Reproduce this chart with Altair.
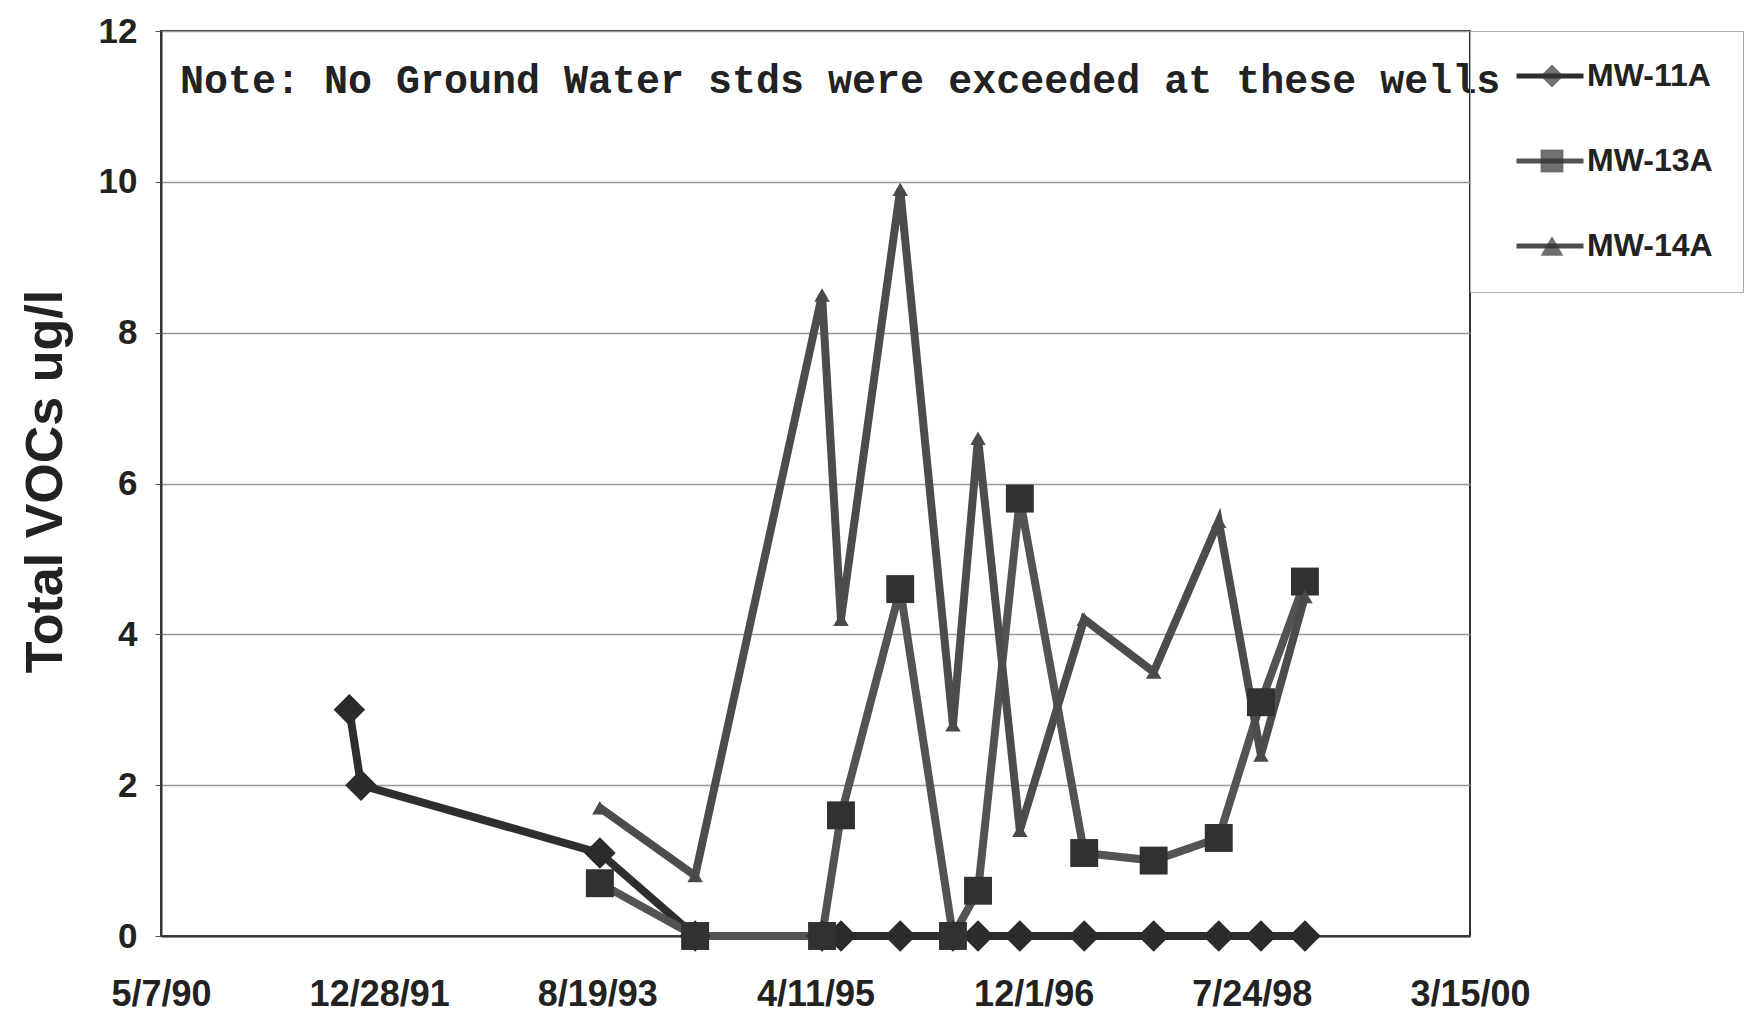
import altair as alt
import pandas as pd

# Sampling rounds and total VOC results (ug/l) for the three monitoring wells
wells = ["MW-11A", "MW-13A", "MW-14A"]

mw11_dates = [
    "1991-10-07", "1991-11-08", "1993-08-26", "1994-05-15", "1995-04-29",
    "1995-06-20", "1995-11-30", "1996-04-23", "1996-07-01", "1996-10-24",
    "1997-04-19", "1997-10-27", "1998-04-24", "1998-08-18", "1998-12-17",
]
mw11_vocs = [3.0, 2.0, 1.1, 0, 0, 0, 0, 0, 0, 0, 0, 0, 0, 0, 0]

later_dates = [
    "1993-08-26", "1994-05-15", "1995-04-29", "1995-06-20", "1995-11-30",
    "1996-04-23", "1996-07-01", "1996-10-24", "1997-04-19", "1997-10-27",
    "1998-04-24", "1998-08-18", "1998-12-17",
]
mw13_vocs = [0.7, 0, 0, 1.6, 4.6, 0, 0.6, 5.8, 1.1, 1.0, 1.3, 3.1, 4.7]
mw14_vocs = [1.7, 0.8, 8.5, 4.2, 9.9, 2.8, 6.6, 1.4, 4.2, 3.5, 5.5, 2.4, 4.5]

tick_dates = ["1990-05-07", "1991-12-28", "1993-08-19", "1995-04-11",
              "1996-12-01", "1998-07-24", "2000-03-15"]
y_ticks = [0, 2, 4, 6, 8, 10, 12]
note_text = "Note: No Ground Water stds were exceeded at these wells"

# Long table for the layered chart
rows = []
for d, v in zip(mw11_dates, mw11_vocs):
    rows.append({"date": d, "vocs": v, "well": "MW-11A"})
for d, v in zip(later_dates, mw13_vocs):
    rows.append({"date": d, "vocs": v, "well": "MW-13A"})
for d, v in zip(later_dates, mw14_vocs):
    rows.append({"date": d, "vocs": v, "well": "MW-14A"})
df = pd.DataFrame(rows)

tick_ms = [int(t) for t in (pd.to_datetime(tick_dates).astype("int64") // 10**6)]

line_colors = ["#2e2e2e", "#535353", "#4c4c4c"]
marker_style = {
    "MW-11A": {"shape": "diamond", "size": 1000, "color": "#2b2b2b"},
    "MW-13A": {"shape": "square", "size": 780, "color": "#313131"},
    "MW-14A": {"shape": "triangle-up", "size": 240, "color": "#4a4a4a"},
}
legend_shapes = [marker_style[w]["shape"] for w in wells]

x_enc = alt.X(
    "date:T",
    scale=alt.Scale(type="utc", domain=[tick_ms[0], tick_ms[-1]]),
    axis=alt.Axis(
        values=tick_ms,
        labelExpr="utcFormat(datum.value, '%-m/%-d/%y')",
        labelFlush=False,
        labelOverlap=False,
        labelFontSize=36,
        title=None,
        grid=False,
        ticks=False,
        labelPadding=41,
        domainColor="#333333",
        domainWidth=2,
    ),
)
y_enc = alt.Y(
    "vocs:Q",
    scale=alt.Scale(domain=[0, 12], nice=False),
    axis=alt.Axis(
        values=y_ticks,
        title="Total VOCs ug/l",
        titleFont="Liberation Sans",
        titleFontSize=52,
        titleFontWeight="bold",
        titleColor="#222222",
        titleAngle=270,
        titleBaseline="middle",
        titleX=-116,
        titleY=450,
        grid=True,
        gridColor="#999999",
        gridWidth=1.5,
        tickSize=6,
        tickColor="#555555",
        labelPadding=18,
        labelFontSize=35,
        domainColor="#333333",
        domainWidth=2,
    ),
)

base = alt.Chart(df)

# Series lines; their legend draws the line segments and the well names
lines = base.mark_line(strokeWidth=8).encode(
    x=x_enc,
    y=y_enc,
    stroke=alt.Stroke(
        "well:N",
        scale=alt.Scale(domain=wells, range=line_colors),
        legend=alt.Legend(
            title=None,
            orient="right",
            offset=0,
            padding=30,
            clipHeight=30,
            rowPadding=53,
            symbolType="stroke",
            symbolSize=4489,
            symbolStrokeWidth=5,
            symbolOffset=14,
            labelOffset=1,
            labelFont="Liberation Sans",
            labelFontSize=32,
            labelFontWeight="bold",
            labelColor="#222222",
            labelLimit=300,
            # trailing room so the legend frame runs out to the page edge
            labelExpr="datum.label + '   '",
            strokeColor="#aaaaaa",
        ),
    ),
)

# One marker layer per well, each with its own fixed symbol
marker_layers = [
    base.transform_filter(alt.datum.well == w)
    .mark_point(
        filled=True,
        opacity=1,
        shape=marker_style[w]["shape"],
        size=marker_style[w]["size"],
        color=marker_style[w]["color"],
    )
    .encode(x=x_enc, y=y_enc)
    for w in wells
]

# Legend markers, laid over the middle of the legend line segments
legend_markers = base.transform_filter("false").mark_point(
    filled=True, color="#333333"
).encode(
    x=x_enc,
    y=y_enc,
    shape=alt.Shape(
        "well:N",
        scale=alt.Scale(domain=wells, range=legend_shapes),
        legend=alt.Legend(
            title=None,
            orient="none",
            legendX=1309,
            legendY=0,
            padding=30,
            clipHeight=30,
            rowPadding=53,
            symbolSize=520,
            symbolOffset=36,
            symbolFillColor="#333333",
            symbolStrokeWidth=0,
            labelExpr="''",
            labelFontSize=32,
        ),
    ),
)

note = alt.Chart(pd.DataFrame({"note": [note_text]})).mark_text(
    align="left",
    baseline="middle",
    font="Liberation Mono",
    fontSize=40,
    fontWeight="bold",
    color="#222222",
).encode(
    x=alt.value(19),
    y=alt.value(50),
    text="note:N",
)

chart = (
    alt.layer(lines, *marker_layers, legend_markers, note)
    .properties(
        width=1309,
        height=905,
        autosize=alt.AutoSizeParams(type="none"),
        padding={"left": 161, "top": 31, "right": 292, "bottom": 76},
        background="white",
    )
    .configure_axis(
        labelFont="Liberation Sans",
        labelFontWeight="bold",
        labelColor="#222222",
    )
    .configure_view(stroke="#333333", strokeWidth=2)
)

chart.save("out.html", embed_options={"renderer": "svg", "actions": False})
